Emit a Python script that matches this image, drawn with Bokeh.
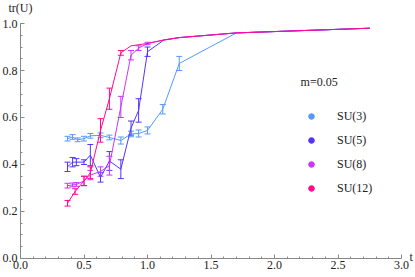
import numpy as np
from bokeh.plotting import figure
from bokeh.models import (ColumnDataSource, Whisker, TeeHead, FixedTicker, Legend,
                          LegendItem, Label, PrintfTickFormatter)
from bokeh.embed import file_html
from bokeh.resources import INLINE

# ---- data ----
su3_x = [0.37, 0.41, 0.45, 0.50, 0.55, 0.63, 0.70, 0.79, 0.87, 0.93, 1.00, 1.12, 1.25, 1.70, 2.75]
su3_y = [0.510, 0.517, 0.505, 0.510, 0.522, 0.524, 0.515, 0.502, 0.530, 0.532, 0.545, 0.635, 0.830, 0.960, 0.980]
su3_e = [0.010, 0.010, 0.008, 0.010, 0.010, 0.010, 0.010, 0.015, 0.012, 0.015, 0.015, 0.020, 0.030, 0.0, 0.0]

su5_x = [0.37, 0.41, 0.44, 0.50, 0.55, 0.63, 0.70, 0.79, 0.87, 0.93, 1.00, 1.13, 1.25, 1.70, 2.75]
su5_y = [0.390, 0.410, 0.410, 0.410, 0.440, 0.345, 0.415, 0.380, 0.555, 0.630, 0.880, 0.930, 0.940, 0.960, 0.980]
su5_e = [0.020, 0.020, 0.015, 0.010, 0.045, 0.020, 0.040, 0.040, 0.030, 0.050, 0.020, 0.0, 0.0, 0.0, 0.0]

su8_x = [0.37, 0.41, 0.44, 0.50, 0.55, 0.63, 0.70, 0.79, 0.87, 0.93, 1.00, 1.13, 1.25, 1.70, 2.75]
su8_y = [0.310, 0.313, 0.315, 0.330, 0.355, 0.370, 0.395, 0.645, 0.865, 0.895, 0.915, 0.930, 0.940, 0.960, 0.980]
su8_e = [0.010, 0.008, 0.008, 0.020, 0.020, 0.020, 0.040, 0.045, 0.020, 0.010, 0.005, 0.0, 0.0, 0.0, 0.0]

su12_x = [0.37, 0.43, 0.50, 0.55, 0.63, 0.70, 0.79, 0.87, 1.00, 1.13, 1.25, 1.70, 2.75]
su12_y = [0.235, 0.285, 0.330, 0.365, 0.545, 0.680, 0.875, 0.905, 0.915, 0.930, 0.940, 0.960, 0.980]
su12_e = [0.012, 0.012, 0.020, 0.025, 0.050, 0.045, 0.010, 0.0, 0.0, 0.0, 0.0, 0.0, 0.0]

series = [
    ("SU(3)", su3_x, su3_y, su3_e, "#5599ff"),
    ("SU(5)", su5_x, su5_y, su5_e, "#5533ff"),
    ("SU(8)", su8_x, su8_y, su8_e, "#cc33ff"),
    ("SU(12)", su12_x, su12_y, su12_e, "#ff0a8c"),
]

x_ticks = [0.0, 0.5, 1.0, 1.5, 2.0, 2.5, 3.0]
y_ticks = [0.0, 0.2, 0.4, 0.6, 0.8, 1.0]

FONT = "Liberation Serif, serif"
FS = "12px"

p = figure(width=415, height=277, output_backend="svg", toolbar_location=None,
           x_range=(-0.1575, 3.110), y_range=(-0.0809, 1.0979),
           min_border_left=0, min_border_right=0, min_border_top=0, min_border_bottom=0)
p.outline_line_color = None
p.grid.visible = False

for ax, ticks, minors, bnds in ((p.xaxis, x_ticks, list(np.round(np.arange(0, 3.001, 0.1), 2)), (0, 3.0)),
                                (p.yaxis, y_ticks, list(np.round(np.arange(0, 1.001, 0.05), 2)), (0, 1.0))):
    ax.ticker = FixedTicker(ticks=ticks, minor_ticks=minors)
    ax.formatter = PrintfTickFormatter(format="%.1f")
    ax.bounds = bnds
    ax.fixed_location = 0
    ax.axis_line_color = "#888888"
    ax.major_tick_line_color = "#888888"
    ax.minor_tick_line_color = "#888888"
    ax.major_tick_in = 4
    ax.major_tick_out = 0
    ax.minor_tick_in = 2
    ax.minor_tick_out = 0
    ax.major_label_text_font = FONT
    ax.major_label_text_font_size = FS
    ax.major_label_text_color = "#222222"
    ax.major_label_standoff = 3

legend_items = []
for name, xs, ys, es, col in series:
    p.line(xs, ys, line_color=col, line_width=1)
    xe = [x for x, e in zip(xs, es) if e > 0]
    lo = [y - e for y, e in zip(ys, es) if e > 0]
    hi = [y + e for y, e in zip(ys, es) if e > 0]
    src = ColumnDataSource(dict(x=xe, lower=lo, upper=hi))
    w = Whisker(base="x", lower="lower", upper="upper", source=src, line_color=col, line_width=1,
                upper_head=TeeHead(size=6, line_color=col, line_width=1),
                lower_head=TeeHead(size=6, line_color=col, line_width=1))
    p.add_layout(w)
    r = p.scatter(xs, ys, marker="circle", size=11, fill_color=col, line_color=col, visible=False)
    legend_items.append(LegendItem(label=name, renderers=[r]))

legend = Legend(items=legend_items, location=(304, 79), padding=0, margin=0,
                glyph_width=14, glyph_height=20, label_height=20, spacing=4,
                label_standoff=19, border_line_color=None, background_fill_alpha=0,
                inactive_fill_alpha=0, click_policy="none",
                label_text_font=FONT, label_text_font_size=FS, label_text_color="#222222")
p.add_layout(legend)

p.add_layout(Label(x=2.205, y=0.749, text="m=0.05", text_font=FONT, text_font_size=FS,
                   text_color="#222222", text_baseline="middle"))
p.add_layout(Label(x=0, y=1.064, text="tr(U)", text_font=FONT, text_font_size=FS,
                   text_color="#222222", text_baseline="middle", text_align="center"))
p.add_layout(Label(x=3.0, y=0, x_offset=8, y_offset=1, text="t", text_font=FONT,
                   text_font_size=FS, text_color="#222222", text_baseline="middle"))

open("out.html", "w").write(file_html(p, INLINE))
